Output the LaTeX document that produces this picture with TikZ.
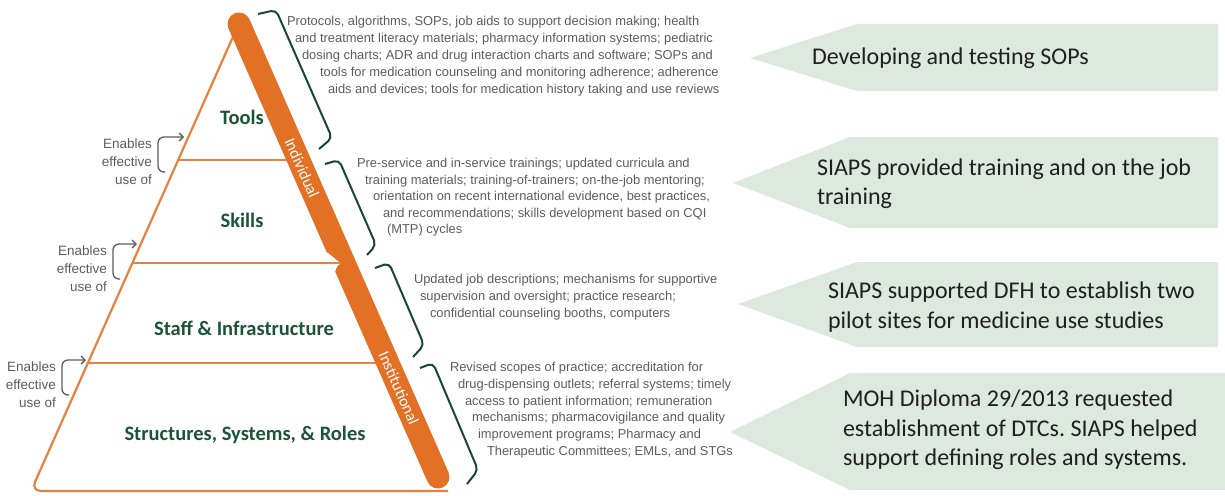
\documentclass[tikz,border=0pt]{standalone}
\usepackage{fontspec}
\usepackage{tikz}
\usetikzlibrary{arrows.meta, calc}
\setmainfont{Liberation Sans}
\newfontfamily\calibrifont{Carlito}
\definecolor{bandorange}{RGB}{226,113,38}
\definecolor{lineorange}{RGB}{231,130,62}
\definecolor{tiergreen}{RGB}{28,84,56}
\definecolor{bracegreen}{RGB}{24,72,48}
\definecolor{descgray}{RGB}{92,92,92}
\definecolor{calloutfill}{RGB}{221,232,223}

\begin{document}
\begin{tikzpicture}[
  x=1pt, y=-1pt,
  >=Stealth,
  every node/.style={inner sep=0pt, outer sep=0pt},
  tierlabel/.style={font=\calibrifont\bfseries\fontsize{20.5}{24}\selectfont, text=tiergreen},
  bandlabel/.style={font=\calibrifont\fontsize{16}{18}\selectfont, text=white, rotate=-66.3},
  desc/.style={font=\fontsize{12.9}{15}\selectfont, text=descgray, anchor=west},
  enables/.style={font=\fontsize{13.5}{18}\selectfont, text=descgray, align=right, anchor=east},
  enablearrow/.style={-{Straight Barb[length=4pt,width=8pt]}, descgray, line width=1.3pt, rounded corners=6pt},
  bracket/.style={bracegreen, line width=2pt, rounded corners=5pt},
  divider/.style={lineorange, line width=2.2pt},
  callout/.style={fill=calloutfill},
  callouttext/.style={font=\calibrifont\frenchspacing\fontsize{24}{29.3}\selectfont, text=black!88, align=left, anchor=west}
]
\useasboundingbox (0,0) rectangle (1225,495);

% Pyramid outline and tier dividers
\draw[lineorange, line width=2.2pt, rounded corners=10pt] (236,30) -- (31,491) -- (448,491);
\draw[divider] (178,160) -- (292,160);
\draw[divider] (88,363) -- (380,363);
% Orange side band with the notch between the two parts
\draw[bandorange, line width=23pt, line cap=round] (239,24) -- (438,477);
\fill[white] (321,249) .. controls (333,255) and (336,261) .. (341,263)
  .. controls (336,266) and (335,271) .. (334,277) -- (318,277) -- cycle;
\draw[divider] (133,263) -- (341,263);

% Tier names
\node[tierlabel] (tools)  at (242,117) {Tools};
\node[tierlabel] (skills) at (242,220) {Skills};
\node[tierlabel] (staff)  at (244,328) {Staff \& Infrastructure};
\node[tierlabel] (roles)  at (245,435) {Structures, Systems, \& Roles};
\node[bandlabel] (indiv) at (302,168) {Individual};
\node[bandlabel] (instit) at (399,388) {Institutional};

% Left side: enables effective use of
\foreach \i/\ym/\bx/\ax in {1/162/158/184, 2/269/113/137, 3/385/62/86} {
  \node[enables] (en\i) at (\bx-6,\ym) {Enables\\effective\\use of};
  \coordinate (edge\i) at (\ax,\ym-25);
  \draw[enablearrow] (\bx+7,\ym+10) -- (\bx,\ym+10) -- (\bx,\ym-25) -- (edge\i);
}

% Brackets beside the band
\draw[bracket] (258,14) -- (276,10) -- (332,138) -- (319,149);
\draw[bracket] (325,164) -- (339,160) -- (376,245) -- (367,255);
\draw[bracket] (375,268) -- (389,263) -- (424,345) -- (413,357);
\draw[bracket] (420,368) -- (433,363) -- (478,470) -- (467,484);

% Descriptions per tier
\foreach \n/\x/\y/\t in {
  a1/287/22/{Protocols, algorithms, SOPs, job aids to support decision making; health},
  a2/295/39/{and treatment literacy materials; pharmacy information systems; pediatric},
  a3/302/56/{dosing charts; ADR and drug interaction charts and software; SOPs and},
  a4/320/73/{tools for medication counseling and monitoring adherence; adherence},
  a5/328/90/{aids and devices; tools for medication history taking and use reviews},
  b1/357/164/{Pre-service and in-service trainings; updated curricula and},
  b2/365/181/{training materials; training-of-trainers; on-the-job mentoring;},
  b3/373/197/{orientation on recent international evidence, best practices,},
  b4/383/214/{and recommendations; skills development based on CQI},
  b5/387/230/{(MTP) cycles},
  c1/414/280/{Updated job descriptions; mechanisms for supportive},
  c2/420/297/{supervision and oversight; practice research;},
  c3/430/314/{confidential counseling booths, computers},
  e1/450/368/{Revised scopes of practice; accreditation for},
  e2/458/385/{drug-dispensing outlets; referral systems; timely},
  e3/465/402/{access to patient information; remuneration},
  e4/472/418/{mechanisms; pharmacovigilance and quality},
  e5/478/435/{improvement programs; Pharmacy and},
  e6/487/452/{Therapeutic Committees; EMLs, and STGs}} {
  \node[desc] (d-\n) at (\x,\y) {\t};
}

% Callouts on the right
\fill[callout] (750,58) -- (857,24) -- (1218,24) -- (1218,91) -- (857,91) -- cycle;
\fill[callout] (733,183) -- (850,137) -- (1218,137) -- (1218,228) -- (850,228) -- cycle;
\fill[callout] (738,304) -- (857,262) -- (1218,262) -- (1218,347) -- (857,347) -- cycle;
\fill[callout] (730,432) -- (850,373) -- (1225,373) -- (1225,490) -- (850,490) -- cycle;
\node[callouttext] (sops)   at (812,58)  {Developing and testing SOPs};
\node[callouttext] (train)  at (817,184) {SIAPS provided training and on the job\\training};
\node[callouttext] (pilot)  at (828,307) {SIAPS supported DFH to establish two\\pilot sites for medicine use studies};
\node[callouttext] (dtc)    at (843,430) {MOH Diploma 29/2013 requested\\establishment of DTCs. SIAPS helped\\support defining roles and systems.};

\end{tikzpicture}
\end{document}
